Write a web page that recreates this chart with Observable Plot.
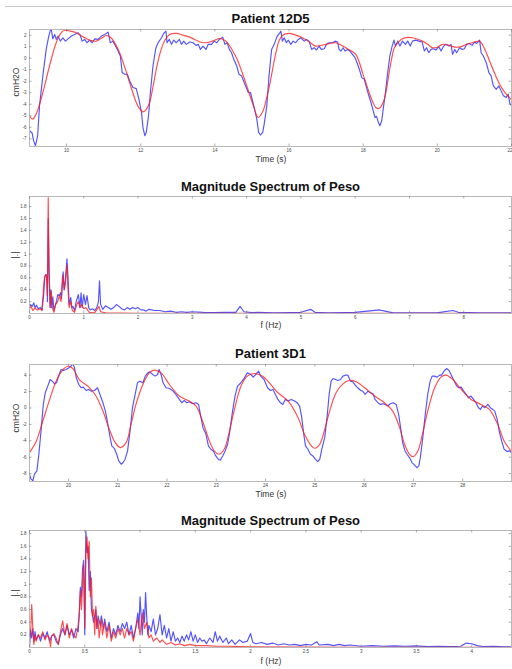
<!DOCTYPE html>
<html>
<head>
<meta charset="utf-8">
<script src="https://cdn.jsdelivr.net/npm/d3@7"></script>
<script src="https://cdn.jsdelivr.net/npm/@observablehq/plot@0.6"></script>
<style>
  html, body { margin: 0; padding: 0; background: #fff; }
  #root { position: relative; width: 512px; height: 669px; overflow: hidden; background: #fff;
          font-family: "Liberation Sans", Arial, Helvetica, sans-serif; }
  .abs { position: absolute; white-space: nowrap; transform: translate(-50%, -50%); color: #111; }
  .title { font-weight: bold; font-size: 13px; }
  .xlab { font-size: 8.5px; color: #333; }
  .ylab { font-size: 8.5px; color: #333; transform: translate(-50%, -50%) rotate(-90deg); }
  svg { position: absolute; left: 0; overflow: visible; }
</style>
</head>
<body>
<div id="root"></div>
<script>
// ---------- Panel 1: Patient 12D5 (time series, cmH2O) ----------
const p1Title = "Patient 12D5";
const p1XTicks = [10, 12, 14, 16, 18, 20, 22];
const p1YTicks = [-7, -6, -5, -4, -3, -2, -1, 0, 1, 2];
const p1Blue = [[9.0,-6.3],[9.07,-6.5],[9.11,-7.16],[9.16,-7.6],[9.22,-6.73],[9.27,-4.14],[9.36,-1.54],[9.45,0.76],[9.52,1.92],[9.58,2.64],[9.63,1.68],[9.68,2.06],[9.72,1.63],[9.77,1.92],[9.83,1.48],[9.9,1.77],[9.97,1.48],[10.04,1.68],[10.13,1.92],[10.22,2.06],[10.31,2.2],[10.37,1.97],[10.42,1.48],[10.49,1.63],[10.55,1.34],[10.62,1.57],[10.69,1.34],[10.76,1.68],[10.85,1.63],[10.94,1.92],[11.03,2.06],[11.12,2.26],[11.18,1.34],[11.25,1.48],[11.32,1.05],[11.39,0.62],[11.45,0.19],[11.5,-1.25],[11.57,-1.4],[11.64,-1.4],[11.7,-1.97],[11.79,-2.55],[11.88,-2.64],[11.95,-3.56],[12.02,-4.71],[12.06,-6.01],[12.11,-6.73],[12.15,-6.44],[12.21,-5.0],[12.26,-2.98],[12.33,-0.68],[12.41,0.91],[12.48,1.4],[12.56,1.77],[12.62,2.15],[12.68,2.35],[12.71,1.34],[12.77,1.63],[12.83,1.2],[12.89,1.57],[12.96,1.34],[13.04,1.63],[13.1,1.2],[13.16,1.48],[13.23,1.2],[13.32,1.4],[13.41,1.34],[13.49,1.11],[13.55,1.2],[13.61,0.76],[13.68,1.05],[13.76,0.76],[13.82,1.2],[13.91,1.2],[13.98,1.48],[14.05,1.34],[14.12,1.63],[14.21,1.83],[14.27,1.2],[14.33,1.34],[14.39,0.76],[14.45,0.47],[14.51,-0.1],[14.59,-0.68],[14.65,-1.4],[14.72,-1.54],[14.81,-2.26],[14.9,-2.98],[14.96,-2.98],[15.05,-4.14],[15.13,-5.29],[15.18,-6.44],[15.23,-6.67],[15.29,-6.44],[15.33,-5.72],[15.4,-4.14],[15.46,-1.54],[15.53,0.76],[15.6,1.2],[15.68,1.9],[15.75,2.2],[15.78,2.35],[15.82,1.48],[15.87,1.77],[15.93,1.34],[15.98,1.57],[16.05,1.2],[16.11,1.48],[16.18,1.34],[16.25,1.63],[16.32,1.77],[16.41,1.48],[16.47,1.63],[16.54,1.48],[16.61,0.76],[16.68,0.91],[16.74,0.71],[16.81,1.05],[16.87,0.76],[16.95,0.82],[17.01,1.2],[17.08,1.34],[17.17,1.34],[17.24,1.48],[17.31,1.4],[17.35,0.76],[17.4,0.62],[17.46,0.91],[17.51,0.62],[17.58,0.76],[17.64,0.62],[17.71,0.33],[17.78,0.04],[17.85,-0.53],[17.91,-1.11],[17.96,-1.69],[18.03,-1.83],[18.09,-2.55],[18.14,-3.13],[18.21,-3.85],[18.27,-4.57],[18.32,-5.15],[18.36,-5.06],[18.41,-5.58],[18.45,-5.87],[18.5,-5.43],[18.54,-4.43],[18.6,-2.98],[18.66,-1.25],[18.72,0.19],[18.78,1.05],[18.83,1.57],[18.87,1.05],[18.93,1.48],[18.99,1.05],[19.06,1.48],[19.14,1.2],[19.2,1.48],[19.27,1.05],[19.33,1.48],[19.41,1.57],[19.5,1.48],[19.59,1.4],[19.65,0.62],[19.71,0.91],[19.77,0.47],[19.83,0.76],[19.89,0.82],[19.96,0.71],[20.04,1.0],[20.1,0.62],[20.16,1.0],[20.23,1.2],[20.31,1.05],[20.37,1.2],[20.41,0.33],[20.47,0.76],[20.52,0.47],[20.6,0.91],[20.67,0.76],[20.73,0.82],[20.79,1.2],[20.86,1.28],[20.94,1.11],[21.0,1.4],[21.06,1.28],[21.14,1.57],[21.18,0.47],[21.24,0.19],[21.32,-0.39],[21.39,-1.25],[21.45,-1.54],[21.51,-2.41],[21.59,-2.7],[21.66,-2.41],[21.72,-2.84],[21.78,-3.27],[21.86,-3.42],[21.91,-3.13],[21.96,-3.99],[22.0,-4.1]];
const p1Red = [[9.0,-5.0],[9.09,-5.29],[9.2,-4.7],[9.36,-2.98],[9.54,-0.68],[9.72,1.34],[9.85,2.2],[9.95,2.43],[10.1,2.35],[10.26,2.2],[10.45,1.85],[10.62,1.57],[10.8,1.48],[10.95,1.75],[11.07,1.97],[11.2,1.77],[11.32,1.2],[11.43,0.47],[11.57,-0.8],[11.7,-2.12],[11.88,-3.85],[11.97,-4.4],[12.06,-4.66],[12.15,-4.45],[12.24,-3.85],[12.33,-2.5],[12.42,-0.97],[12.51,0.3],[12.6,1.2],[12.69,1.75],[12.78,2.06],[12.96,2.15],[13.14,2.0],[13.32,1.83],[13.6,1.4],[13.77,1.34],[13.95,1.5],[14.14,1.71],[14.3,1.48],[14.45,0.8],[14.6,-0.1],[14.73,-1.2],[14.86,-2.41],[15.04,-4.14],[15.17,-5.15],[15.3,-4.57],[15.4,-3.4],[15.49,-2.12],[15.56,-0.9],[15.64,0.4],[15.73,1.5],[15.82,1.97],[16.0,2.15],[16.18,2.0],[16.36,1.77],[16.55,1.4],[16.72,1.05],[16.85,1.1],[16.99,1.2],[17.13,1.3],[17.26,1.34],[17.4,1.15],[17.53,0.91],[17.67,0.65],[17.8,0.33],[17.9,-0.4],[17.98,-1.25],[18.07,-2.1],[18.16,-2.98],[18.25,-3.75],[18.34,-4.28],[18.43,-4.37],[18.5,-4.1],[18.57,-3.56],[18.64,-2.5],[18.7,-1.25],[18.77,0.0],[18.84,0.91],[18.95,1.4],[19.06,1.68],[19.2,1.8],[19.33,1.77],[19.47,1.65],[19.6,1.48],[19.74,1.2],[19.87,0.91],[20.0,0.95],[20.14,1.2],[20.27,1.15],[20.41,1.0],[20.53,0.95],[20.64,1.0],[20.75,1.15],[20.86,1.28],[21.0,1.4],[21.14,1.48],[21.23,1.1],[21.32,0.47],[21.41,-0.25],[21.5,-0.97],[21.59,-1.65],[21.68,-2.26],[21.77,-2.75],[21.86,-3.13],[21.95,-3.45],[22.0,-3.6]];

// ---------- Panel 2: Magnitude Spectrum of Peso (12D5) ----------
const p2Title = "Magnitude Spectrum of Peso";
const p2XTicks = [0, 1, 2, 3, 4, 5, 6, 7, 8];
const p2YTicks = [0.2, 0.4, 0.6, 0.8, 1, 1.2, 1.4, 1.6, 1.8];
const p2Blue = [[0,0.1],[0.02,0.15],[0.05,0.12],[0.08,0.18],[0.1,0.1],[0.13,0.14],[0.16,0.08],[0.2,0.1],[0.23,0.06],[0.26,0.3],[0.28,0.6],[0.3,0.66],[0.32,0.62],[0.33,0.2],[0.345,1.6],[0.36,0.7],[0.38,0.1],[0.395,0.4],[0.41,0.1],[0.43,0.28],[0.45,0.05],[0.48,0.15],[0.5,0.22],[0.52,0.32],[0.55,0.3],[0.57,0.35],[0.59,0.25],[0.62,0.7],[0.64,0.4],[0.66,0.55],[0.69,0.92],[0.71,0.6],[0.73,0.15],[0.76,0.27],[0.78,0.1],[0.8,0.12],[0.83,0.05],[0.86,0.2],[0.9,0.32],[0.93,0.1],[0.95,0.35],[0.97,0.1],[1.0,0.32],[1.03,0.15],[1.06,0.3],[1.09,0.1],[1.12,0.06],[1.16,0.08],[1.2,0.05],[1.24,0.1],[1.27,0.2],[1.29,0.55],[1.31,0.15],[1.35,0.07],[1.4,0.13],[1.45,0.1],[1.5,0.07],[1.55,0.1],[1.6,0.15],[1.65,0.12],[1.7,0.08],[1.75,0.06],[1.8,0.1],[1.85,0.07],[1.9,0.1],[1.95,0.08],[2.0,0.1],[2.05,0.06],[2.1,0.06],[2.15,0.04],[2.2,0.07],[2.3,0.05],[2.4,0.05],[2.5,0.03],[2.6,0.04],[2.7,0.02],[2.8,0.03],[2.9,0.02],[3.0,0.03],[3.2,0.02],[3.4,0.015],[3.6,0.02],[3.8,0.02],[3.88,0.12],[3.95,0.03],[4.1,0.015],[4.2,0.02],[4.5,0.01],[4.8,0.015],[5.0,0.02],[5.18,0.07],[5.26,0.02],[5.5,0.01],[5.8,0.015],[6.0,0.02],[6.45,0.06],[6.55,0.04],[6.7,0.01],[7.0,0.01],[7.5,0.01],[7.8,0.05],[7.9,0.02],[8.3,0.01],[8.9,0.01]];
const p2Red = [[0,0.08],[0.03,0.12],[0.06,0.05],[0.1,0.09],[0.15,0.06],[0.2,0.08],[0.23,0.05],[0.26,0.45],[0.28,0.63],[0.31,0.65],[0.33,0.3],[0.345,1.95],[0.36,0.8],[0.38,0.1],[0.4,0.38],[0.42,0.1],[0.45,0.02],[0.48,0.15],[0.52,0.2],[0.55,0.3],[0.58,0.2],[0.61,0.65],[0.64,0.4],[0.66,0.5],[0.69,0.82],[0.71,0.4],[0.73,0.1],[0.76,0.2],[0.79,0.05],[0.83,0.02],[0.87,0.15],[0.9,0.2],[0.93,0.1],[0.96,0.15],[1.0,0.08],[1.04,0.1],[1.1,0.02],[1.2,0.01],[1.28,0.12],[1.31,0.03],[1.4,0.01],[2,0.005],[4,0.003],[8.9,0.002]];

// ---------- Panel 3: Patient 3D1 (time series, cmH2O) ----------
const p3Title = "Patient 3D1";
const p3XTicks = [20, 21, 22, 23, 24, 25, 26, 27, 28];
const p3YTicks = [-8, -6, -4, -2, 0, 2, 4];
const p3Blue = [[19.21,-8.08],[19.24,-8.68],[19.28,-8.88],[19.31,-8.08],[19.36,-7.67],[19.4,-5.65],[19.45,-2.4],[19.49,0.43],[19.53,1.85],[19.58,2.66],[19.63,3.47],[19.67,3.27],[19.72,2.94],[19.76,3.07],[19.8,3.88],[19.85,4.69],[19.9,4.57],[19.95,4.69],[20.01,4.89],[20.05,5.09],[20.09,5.38],[20.12,4.97],[20.16,3.67],[20.21,2.86],[20.26,2.46],[20.3,2.54],[20.36,2.13],[20.41,2.26],[20.46,2.05],[20.53,2.13],[20.59,2.46],[20.64,1.65],[20.7,0.64],[20.75,-0.38],[20.8,-2.0],[20.84,-3.42],[20.88,-4.63],[20.93,-4.92],[20.98,-5.65],[21.02,-6.46],[21.07,-6.86],[21.11,-6.66],[21.15,-6.25],[21.2,-5.24],[21.25,-2.81],[21.3,0.03],[21.36,1.85],[21.4,3.07],[21.45,3.27],[21.51,3.07],[21.56,3.88],[21.61,4.28],[21.65,4.4],[21.71,4.08],[21.76,3.88],[21.81,4.08],[21.84,4.69],[21.88,4.08],[21.92,3.07],[21.98,2.46],[22.05,2.38],[22.11,2.13],[22.18,1.65],[22.25,1.04],[22.3,0.64],[22.35,0.92],[22.4,0.64],[22.45,0.76],[22.52,0.51],[22.59,0.64],[22.64,0.43],[22.69,-1.19],[22.73,-2.4],[22.79,-3.21],[22.84,-4.63],[22.89,-5.04],[22.94,-5.24],[22.99,-5.85],[23.04,-6.25],[23.08,-6.37],[23.13,-5.85],[23.18,-5.24],[23.23,-4.43],[23.27,-3.01],[23.33,-0.38],[23.38,1.45],[23.43,2.66],[23.5,3.07],[23.57,3.67],[23.63,4.28],[23.7,4.08],[23.75,3.76],[23.8,4.08],[23.86,4.48],[23.9,3.88],[23.97,3.47],[24.04,2.46],[24.1,2.13],[24.15,2.26],[24.2,1.65],[24.25,1.04],[24.3,0.64],[24.35,0.43],[24.4,1.04],[24.46,0.84],[24.52,1.04],[24.59,0.84],[24.64,0.64],[24.69,0.23],[24.73,-0.99],[24.77,-3.01],[24.81,-4.63],[24.86,-5.04],[24.91,-5.65],[24.96,-5.85],[25.01,-6.25],[25.06,-6.54],[25.1,-6.25],[25.14,-5.04],[25.2,-3.62],[25.25,-0.99],[25.29,1.65],[25.33,3.27],[25.37,3.59],[25.42,3.47],[25.47,3.35],[25.52,3.47],[25.57,3.88],[25.62,4.0],[25.67,4.0],[25.72,3.27],[25.77,3.19],[25.82,2.78],[25.87,2.46],[25.93,2.13],[25.97,2.05],[26.02,1.65],[26.08,2.05],[26.13,1.85],[26.18,1.73],[26.22,1.04],[26.28,0.64],[26.33,0.43],[26.38,0.51],[26.43,0.43],[26.48,0.23],[26.53,0.51],[26.59,0.64],[26.65,0.43],[26.7,-0.78],[26.74,-2.4],[26.78,-4.23],[26.83,-5.24],[26.87,-5.65],[26.92,-6.05],[26.97,-6.66],[27.02,-6.94],[27.07,-7.27],[27.11,-7.06],[27.14,-6.05],[27.19,-3.62],[27.24,-0.78],[27.29,1.65],[27.34,3.27],[27.38,3.88],[27.43,3.88],[27.48,3.76],[27.53,4.0],[27.57,4.0],[27.63,4.57],[27.68,4.81],[27.73,4.48],[27.78,3.88],[27.83,3.27],[27.88,2.66],[27.92,2.46],[27.97,2.54],[28.02,2.05],[28.07,1.65],[28.12,1.24],[28.17,1.45],[28.22,1.04],[28.27,0.64],[28.32,0.03],[28.36,-0.18],[28.4,0.23],[28.45,0.03],[28.51,0.43],[28.56,0.03],[28.61,-0.18],[28.65,-0.38],[28.7,-1.39],[28.74,-2.81],[28.79,-4.02],[28.84,-5.04],[28.9,-5.32],[28.95,-5.24],[28.99,-5.44]];
const p3Red = [[19.21,-5.44],[19.35,-4.02],[19.48,-1.59],[19.62,1.04],[19.75,3.27],[19.89,4.69],[19.99,5.09],[20.09,4.81],[20.22,3.47],[20.43,2.46],[20.56,1.45],[20.7,-0.38],[20.83,-2.61],[20.95,-4.23],[21.05,-4.83],[21.17,-4.23],[21.27,-2.0],[21.37,0.43],[21.51,2.86],[21.64,4.28],[21.74,4.61],[21.88,4.28],[22.05,2.86],[22.25,1.45],[22.45,0.84],[22.59,0.23],[22.72,-1.59],[22.86,-4.02],[22.96,-5.24],[23.05,-5.65],[23.16,-5.04],[23.26,-3.01],[23.36,-0.38],[23.5,2.66],[23.63,3.88],[23.77,4.2],[23.94,3.88],[24.1,2.9],[24.25,1.85],[24.46,0.84],[24.66,-1.19],[24.79,-3.21],[24.93,-4.63],[25.0,-4.92],[25.1,-4.43],[25.2,-2.61],[25.3,-0.38],[25.43,1.85],[25.57,2.94],[25.7,3.35],[25.84,3.19],[26.01,2.46],[26.21,1.45],[26.41,0.64],[26.58,-0.38],[26.72,-2.4],[26.82,-4.43],[26.92,-5.65],[26.99,-5.93],[27.09,-5.24],[27.19,-3.01],[27.29,-0.38],[27.43,2.46],[27.56,3.76],[27.66,4.0],[27.8,3.47],[27.97,2.26],[28.17,1.04],[28.37,0.43],[28.54,-0.18],[28.71,-2.0],[28.84,-4.02],[28.98,-5.24]];

// ---------- Panel 4: Magnitude Spectrum of Peso (3D1) ----------
const p4Title = "Magnitude Spectrum of Peso";
const p4XTicks = [0, 0.5, 1, 1.5, 2, 2.5, 3, 3.5, 4];
const p4YTicks = [0.2, 0.4, 0.6, 0.8, 1, 1.2, 1.4, 1.6, 1.8];
const p4Blue = [[0,0.0],[0.01,0.28],[0.02,0.15],[0.03,0.3],[0.04,0.1],[0.05,0.25],[0.06,0.12],[0.08,0.2],[0.1,0.1],[0.12,0.22],[0.14,0.15],[0.16,0.25],[0.18,0.1],[0.2,0.18],[0.22,0.2],[0.24,0.1],[0.26,0.05],[0.28,0.2],[0.3,0.3],[0.32,0.2],[0.34,0.35],[0.36,0.2],[0.38,0.28],[0.4,0.15],[0.42,0.3],[0.44,0.25],[0.45,0.5],[0.46,0.95],[0.47,0.8],[0.48,1.25],[0.49,1.38],[0.5,0.2],[0.51,1.85],[0.52,1.5],[0.53,1.6],[0.54,0.9],[0.55,1.2],[0.56,0.6],[0.57,0.5],[0.58,0.4],[0.6,0.6],[0.61,0.3],[0.62,0.5],[0.64,0.35],[0.65,0.5],[0.67,0.3],[0.68,0.45],[0.7,0.25],[0.72,0.4],[0.74,0.15],[0.76,0.3],[0.78,0.2],[0.8,0.35],[0.82,0.25],[0.84,0.38],[0.86,0.3],[0.88,0.4],[0.9,0.2],[0.92,0.35],[0.94,0.15],[0.96,0.3],[0.98,0.55],[0.99,0.3],[1.0,0.8],[1.01,0.5],[1.02,0.2],[1.03,0.6],[1.04,0.4],[1.05,0.87],[1.06,0.5],[1.07,0.2],[1.08,0.35],[1.1,0.25],[1.12,0.45],[1.14,0.2],[1.16,0.3],[1.18,0.52],[1.2,0.2],[1.22,0.35],[1.24,0.15],[1.26,0.3],[1.28,0.1],[1.3,0.25],[1.32,0.1],[1.34,0.15],[1.36,0.08],[1.38,0.18],[1.4,0.1],[1.42,0.2],[1.44,0.12],[1.46,0.25],[1.48,0.1],[1.5,0.2],[1.52,0.08],[1.54,0.15],[1.56,0.1],[1.58,0.12],[1.6,0.06],[1.63,0.15],[1.66,0.08],[1.68,0.25],[1.7,0.1],[1.72,0.18],[1.75,0.08],[1.78,0.15],[1.8,0.06],[1.83,0.12],[1.86,0.05],[1.9,0.12],[1.93,0.08],[1.97,0.1],[2.0,0.22],[2.02,0.08],[2.05,0.06],[2.1,0.08],[2.15,0.05],[2.2,0.07],[2.25,0.04],[2.3,0.06],[2.35,0.04],[2.4,0.05],[2.45,0.03],[2.5,0.05],[2.55,0.04],[2.6,0.09],[2.62,0.04],[2.7,0.05],[2.75,0.03],[2.8,0.05],[2.85,0.03],[2.9,0.04],[3.0,0.02],[3.1,0.03],[3.2,0.02],[3.3,0.025],[3.4,0.02],[3.5,0.025],[3.6,0.015],[3.7,0.02],[3.8,0.015],[3.9,0.02],[3.95,0.07],[4.0,0.06],[4.05,0.03],[4.1,0.015],[4.2,0.02],[4.3,0.01],[4.37,0.01]];
const p4Red = [[0,0.15],[0.01,0.2],[0.02,0.68],[0.03,0.3],[0.04,0.05],[0.05,0.2],[0.06,0.1],[0.08,0.2],[0.1,0.15],[0.12,0.25],[0.14,0.12],[0.16,0.2],[0.18,0.15],[0.19,0.0],[0.2,0.18],[0.22,0.22],[0.24,0.15],[0.26,0.05],[0.28,0.25],[0.3,0.42],[0.32,0.2],[0.34,0.38],[0.36,0.15],[0.38,0.3],[0.4,0.2],[0.42,0.15],[0.44,0.35],[0.45,0.55],[0.46,0.9],[0.47,0.6],[0.48,1.0],[0.49,1.3],[0.5,0.3],[0.51,1.5],[0.52,1.75],[0.53,1.4],[0.54,1.68],[0.55,0.8],[0.56,1.1],[0.57,0.5],[0.58,0.6],[0.59,0.2],[0.6,0.65],[0.61,0.3],[0.62,0.45],[0.63,0.15],[0.65,0.45],[0.66,0.2],[0.68,0.4],[0.7,0.15],[0.72,0.35],[0.74,0.1],[0.76,0.25],[0.78,0.15],[0.8,0.3],[0.82,0.2],[0.84,0.3],[0.86,0.15],[0.88,0.3],[0.9,0.2],[0.92,0.25],[0.94,0.1],[0.96,0.3],[0.98,0.45],[1.0,0.2],[1.02,0.55],[1.04,0.3],[1.06,0.4],[1.08,0.15],[1.1,0.2],[1.12,0.1],[1.15,0.15],[1.18,0.08],[1.2,0.12],[1.24,0.05],[1.28,0.08],[1.32,0.04],[1.36,0.06],[1.4,0.03],[1.45,0.05],[1.5,0.03],[1.6,0.03],[1.7,0.02],[1.8,0.02],[2.0,0.01],[2.5,0.005],[3.0,0.003],[4.37,0.002]];

const timeLabel = "Time (s)";
const freqLabel = "f (Hz)";
const pressureLabel = "cmH2O";
const magLabel = "|.|";

// ---------- layout ----------
const root = document.getElementById("root");
function addText(cls, text, x, y) {
  const d = document.createElement("div");
  d.className = "abs " + cls;
  d.textContent = text;
  d.style.left = x + "px";
  d.style.top = y + "px";
  root.appendChild(d);
}
const topLine = document.createElement("div");
Object.assign(topLine.style, {position: "absolute", left: "5px", top: "6px", width: "507px", height: "1px", background: "#c8c8c8"});
root.appendChild(topLine);

const fmt = d => String(d);
function panel({boxTop, boxBottom, xDomain, yDomain, xTicks, yTicks, blue, red, smoothRed}) {
  const mt = 4, mb = 12, ml = 29, mr = 1, W = 512;
  const innerH = boxBottom - boxTop;
  const innerW = W - ml - mr;
  const tl = 2.5;
  // a tick label sitting on the right edge is anchored to its end so it stays whole
  const edge = xDomain[1] - (xDomain[1] - xDomain[0]) * 0.01;
  const xInner = xTicks.filter(t => t < edge);
  const xEdge = xTicks.filter(t => t >= edge);
  const svg = Plot.plot({
    width: W, height: innerH + mt + mb,
    marginLeft: ml, marginRight: mr, marginTop: mt, marginBottom: mb,
    style: {background: "transparent", fontFamily: "Liberation Sans, Arial, sans-serif", overflow: "visible"},
    x: {domain: xDomain},
    y: {domain: yDomain},
    marks: [
      Plot.line(blue, {x: d => d[0], y: d => d[1], stroke: "rgb(35,35,255)", strokeOpacity: 0.78, strokeWidth: 1.15, clip: true}),
      Plot.line(red, {x: d => d[0], y: d => d[1], stroke: "rgb(255,25,25)", strokeOpacity: 0.78, strokeWidth: 1.15, curve: smoothRed ? "catmull-rom" : "linear", clip: true}),
      Plot.frame({stroke: "#b8b8b8", strokeWidth: 1}),
      Plot.tickX(xTicks, {x: d => d, insetTop: innerH - tl, stroke: "#777", strokeWidth: 0.6}),
      Plot.tickX(xTicks, {x: d => d, insetBottom: innerH - tl, stroke: "#777", strokeWidth: 0.6}),
      Plot.tickY(yTicks, {y: d => d, insetRight: innerW - tl, stroke: "#777", strokeWidth: 0.6}),
      Plot.tickY(yTicks, {y: d => d, insetLeft: innerW - tl, stroke: "#777", strokeWidth: 0.6}),
      Plot.axisX(xInner, {tickSize: 0, tickPadding: 2.5, fontSize: 4.5, fill: "#444", label: null, tickFormat: fmt}),
      Plot.axisX(xEdge, {tickSize: 0, tickPadding: 2.5, fontSize: 4.5, fill: "#444", label: null, tickFormat: fmt, textAnchor: "end", dx: 1}),
      Plot.axisY(yTicks, {tickSize: 0, tickPadding: 3, fontSize: 4.5, fill: "#444", label: null, tickFormat: fmt})
    ]
  });
  svg.style.top = (boxTop - mt) + "px";
  root.appendChild(svg);
}

// Panel 1
addText("title", p1Title, 270.5, 18);
panel({boxTop: 28.5, boxBottom: 145.5, xDomain: [9, 22], yDomain: [-7.67, 2.49], xTicks: p1XTicks, yTicks: p1YTicks, blue: p1Blue, red: p1Red, smoothRed: true});
addText("xlab", timeLabel, 271, 159);
addText("ylab", pressureLabel, 16, 82);

// Panel 2
addText("title", p2Title, 270.5, 186);
panel({boxTop: 195.5, boxBottom: 312.5, xDomain: [0, 8.88], yDomain: [0, 1.97], xTicks: p2XTicks, yTicks: p2YTicks, blue: p2Blue, red: p2Red, smoothRed: false});
addText("xlab", freqLabel, 271, 325);
addText("ylab", magLabel, 15, 255);

// Panel 3
addText("title", p3Title, 270.5, 353);
panel({boxTop: 363.5, boxBottom: 480.5, xDomain: [19.21, 28.99], yDomain: [-8.97, 5.3], xTicks: p3XTicks, yTicks: p3YTicks, blue: p3Blue, red: p3Red, smoothRed: true});
addText("xlab", timeLabel, 271, 494);
addText("ylab", pressureLabel, 16, 418);

// Panel 4
addText("title", p4Title, 270.5, 520);
panel({boxTop: 530, boxBottom: 647, xDomain: [0, 4.36], yDomain: [0, 1.85], xTicks: p4XTicks, yTicks: p4YTicks, blue: p4Blue, red: p4Red, smoothRed: false});
addText("xlab", freqLabel, 271, 661);
addText("ylab", magLabel, 15, 593);
</script>
</body>
</html>
